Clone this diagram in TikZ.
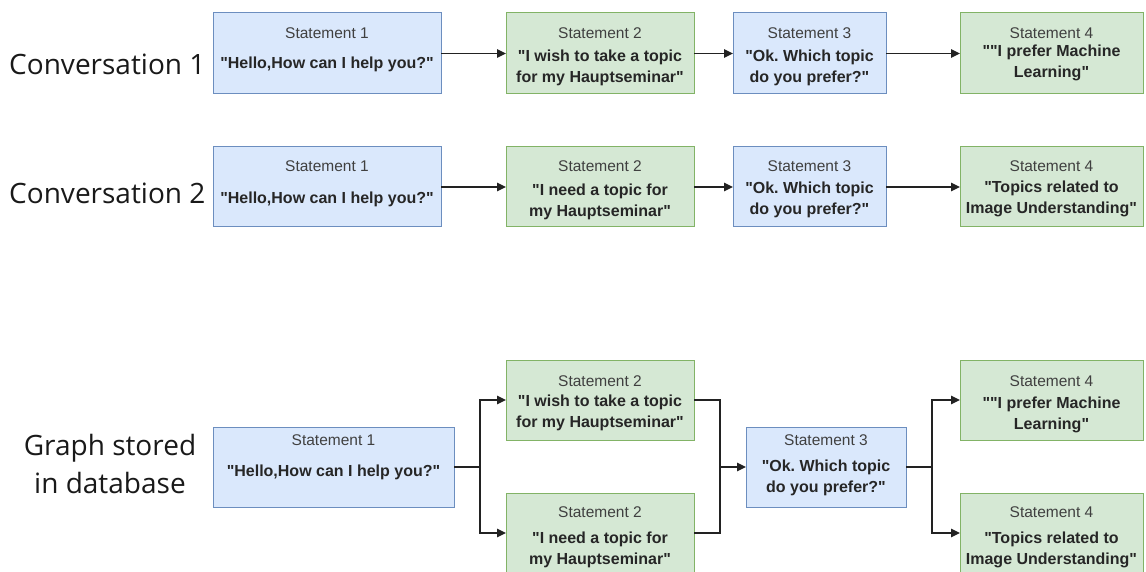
\documentclass[tikz,border=0pt]{standalone}
\usepackage{fontspec}
\setmainfont{Liberation Sans}[Ligatures=TeXOff]
\newfontfamily\labelfont{Open Sans}
\usetikzlibrary{arrows.meta}
\frenchspacing

\definecolor{bluefill}{HTML}{DAE8FC}
\definecolor{bluedraw}{HTML}{6C8EBF}
\definecolor{greenfill}{HTML}{D5E8D4}
\definecolor{greendraw}{HTML}{82B366}
\definecolor{linecol}{HTML}{222222}

\tikzset{
  base/.style={rectangle, inner sep=0pt, outer sep=0pt, anchor=north west, line width=1pt},
  bluebox/.style={base, draw=bluedraw, fill=bluefill},
  greenbox/.style={base, draw=greendraw, fill=greenfill},
  hdr/.style={font=\fontsize{15.5}{18}\selectfont, text=black!75, inner sep=0pt},
  quote/.style={font=\fontsize{16}{21}\selectfont\bfseries, text=black!85, inner sep=0pt, align=center},
  rowlabel/.style={font=\labelfont\fontsize{28}{38}\selectfont, text=black!90, inner sep=0pt, align=center},
  conn/.style={draw=linecol, line width=1.5pt},
  arr/.style={conn, -{Triangle[length=9pt,width=8.5pt]}},
}

\begin{document}
\begin{tikzpicture}[x=1pt, y=-1pt]
\useasboundingbox (0,0) rectangle (1146,572);

% ---------- Conversation 1 ----------
\node[rowlabel, anchor=west] (lab1) at (9,64) {Conversation 1};
\node[bluebox,  minimum width=228, minimum height=81] (a1) at (213,13) {};
\node[greenbox, minimum width=188, minimum height=81] (a2) at (506,13) {};
\node[bluebox,  minimum width=153, minimum height=81] (a3) at (733,13) {};
\node[greenbox, minimum width=183, minimum height=81] (a4) at (960,13) {};

\node[hdr]   (a1h) at ([yshift=-20]a1.north) {Statement 1};
\node[quote] (a1q) at ([yshift=-51]a1.north) {"Hello,How can I help you?"};
\node[hdr]   (a2h) at ([yshift=-20]a2.north) {Statement 2};
\node[quote] (a2q) at ([yshift=-55]a2.north) {"I wish to take a topic\\for my Hauptseminar"};
\node[hdr]   (a3h) at ([yshift=-20]a3.north) {Statement 3};
\node[quote] (a3q) at ([yshift=-55]a3.north) {"Ok. Which topic\\do you prefer?"};
\node[hdr]   (a4h) at ([yshift=-20]a4.north) {Statement 4};
\node[quote] (a4q) at ([yshift=-50]a4.north) {""I prefer Machine\\Learning"};

\draw[arr] (a1.east) -- (a2.west);
\draw[arr] (a2.east) -- (a3.west);
\draw[arr] (a3.east) -- (a4.west);

% ---------- Conversation 2 ----------
\node[rowlabel, anchor=west] (lab2) at (9,193) {Conversation 2};
\node[bluebox,  minimum width=228, minimum height=80] (b1) at (213,147) {};
\node[greenbox, minimum width=188, minimum height=80] (b2) at (506,147) {};
\node[bluebox,  minimum width=153, minimum height=80] (b3) at (733,147) {};
\node[greenbox, minimum width=183, minimum height=80] (b4) at (960,147) {};

\node[hdr]   (b1h) at ([yshift=-19]b1.north) {Statement 1};
\node[quote] (b1q) at ([yshift=-52]b1.north) {"Hello,How can I help you?"};
\node[hdr]   (b2h) at ([yshift=-19]b2.north) {Statement 2};
\node[quote] (b2q) at ([yshift=-55]b2.north) {"I need a topic for\\my Hauptseminar"};
\node[hdr]   (b3h) at ([yshift=-19]b3.north) {Statement 3};
\node[quote] (b3q) at ([yshift=-53]b3.north) {"Ok. Which topic\\do you prefer?"};
\node[hdr]   (b4h) at ([yshift=-19]b4.north) {Statement 4};
\node[quote] (b4q) at ([yshift=-52]b4.north) {"Topics related to\\Image Understanding"};

\draw[arr] (b1.east) -- (b2.west);
\draw[arr] (b2.east) -- (b3.west);
\draw[arr] (b3.east) -- (b4.west);

% ---------- Graph stored in database ----------
\node[rowlabel] (lab3) at (110,464) {Graph stored\\in database};
\node[bluebox,  minimum width=241, minimum height=80] (g1)  at (213,427) {};
\node[greenbox, minimum width=188, minimum height=80] (g2a) at (506,360) {};
\node[greenbox, minimum width=188, minimum height=80] (g2b) at (506,493) {};
\node[bluebox,  minimum width=160, minimum height=80] (g3)  at (746,427) {};
\node[greenbox, minimum width=183, minimum height=80] (g4a) at (960,360) {};
\node[greenbox, minimum width=183, minimum height=80] (g4b) at (960,493) {};

\node[hdr]   (g1h)  at ([yshift=-13]g1.north)  {Statement 1};
\node[quote] (g1q)  at ([yshift=-45]g1.north)  {"Hello,How can I help you?"};
\node[hdr]   (g2ah) at ([yshift=-21]g2a.north) {Statement 2};
\node[quote] (g2aq) at ([yshift=-53]g2a.north) {"I wish to take a topic\\for my Hauptseminar"};
\node[hdr]   (g2bh) at ([yshift=-19]g2b.north) {Statement 2};
\node[quote] (g2bq) at ([yshift=-57]g2b.north) {"I need a topic for\\my Hauptseminar"};
\node[hdr]   (g3h)  at ([yshift=-13]g3.north)  {Statement 3};
\node[quote] (g3q)  at ([yshift=-51]g3.north)  {"Ok. Which topic\\do you prefer?"};
\node[hdr]   (g4ah) at ([yshift=-21]g4a.north) {Statement 4};
\node[quote] (g4aq) at ([yshift=-55]g4a.north) {""I prefer Machine\\Learning"};
\node[hdr]   (g4bh) at ([yshift=-19]g4b.north) {Statement 4};
\node[quote] (g4bq) at ([yshift=-57]g4b.north) {"Topics related to\\Image Understanding"};

% branching connectors
\coordinate (j1) at ([xshift=26]g1.east);
\coordinate (j2) at ([xshift=-26]g3.west);
\coordinate (j3) at ([xshift=26]g3.east);

\draw[conn] (g1.east) -- (j1);
\draw[arr] (j1) |- (g2a.west);
\draw[arr] (j1) |- (g2b.west);

\draw[conn] (g2a.east) -| (j2);
\draw[conn] (g2b.east) -| (j2);
\draw[arr] (j2) -- (g3.west);

\draw[conn] (g3.east) -- (j3);
\draw[arr] (j3) |- (g4a.west);
\draw[arr] (j3) |- (g4b.west);
\end{tikzpicture}
\end{document}
